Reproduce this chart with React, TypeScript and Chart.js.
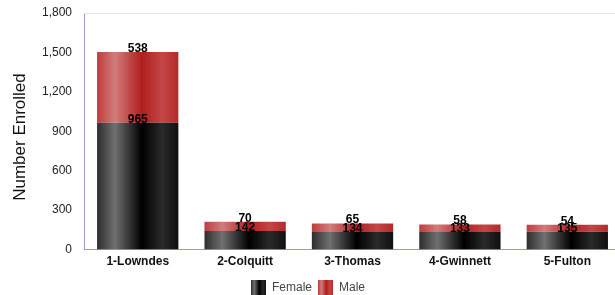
import React, { useEffect, useRef } from "react";
import { Chart, registerables } from "chart.js";

Chart.register(...registerables);

const categories = ["1-Lowndes", "2-Colquitt", "3-Thomas", "4-Gwinnett", "5-Fulton"];
const femaleValues = [965, 142, 134, 133, 135];
const maleValues = [538, 70, 65, 58, 54];
const yTicks = [0, 300, 600, 900, 1200, 1500, 1800];
const yTitle = "Number Enrolled";

const FEMALE_STOPS: [number, string][] = [
  [0, "#2e2e2e"],
  [0.22, "#707070"],
  [0.55, "#000000"],
  [0.8, "#2a2a2a"],
  [1, "#101010"],
];
const MALE_STOPS: [number, string][] = [
  [0, "#bf3c3c"],
  [0.22, "#d27c7c"],
  [0.55, "#b01e1e"],
  [0.8, "#c24646"],
  [1, "#b42a2a"],
];

const BAR_PCT = 0.757;
const FONT = "Arial, 'Liberation Sans', sans-serif";

function makeGrad(c: CanvasRenderingContext2D, x0: number, x1: number, stops: [number, string][]) {
  const g = c.createLinearGradient(x0, 0, x1, 0);
  stops.forEach(([o, col]) => g.addColorStop(o, col));
  return g;
}

function barGradient(stops: [number, string][]) {
  return (ctx: any) => {
    const chart = ctx.chart;
    const xs = chart.scales?.x;
    if (!xs || ctx.dataIndex === undefined) return stops[2][1];
    const cw = xs.width / categories.length;
    const cx = xs.getPixelForValue(ctx.dataIndex);
    const w = cw * BAR_PCT;
    const x0 = cx - w / 2;
    const x1 = cx + w / 2;
    if (!isFinite(x0) || !isFinite(x1) || x1 <= x0) return stops[2][1];
    return makeGrad(chart.ctx, x0, x1, stops);
  };
}

function legendIcon(stops: [number, string][]) {
  const cv = document.createElement("canvas");
  cv.width = 15;
  cv.height = 17;
  const c = cv.getContext("2d")!;
  c.fillStyle = makeGrad(c, 0, 15, stops);
  c.fillRect(0, 0, 15, 17);
  return cv;
}

const valueLabels = {
  id: "valueLabels",
  afterDatasetsDraw(chart: any) {
    const c = chart.ctx;
    c.save();
    c.font = `bold 12px ${FONT}`;
    c.fillStyle = "#000";
    c.textAlign = "center";
    c.textBaseline = "alphabetic";
    chart.data.datasets.forEach((ds: any, di: number) => {
      const meta = chart.getDatasetMeta(di);
      meta.data.forEach((el: any, i: number) => {
        c.fillText(String(ds.data[i]), el.x, el.y);
      });
    });
    c.restore();
  },
};

const frame = {
  id: "frame",
  beforeDatasetsDraw(chart: any) {
    const { ctx: c, chartArea: a } = chart;
    c.save();
    c.strokeStyle = "#e4e4ee";
    c.lineWidth = 1;
    c.beginPath();
    c.moveTo(a.left, a.top + 0.5);
    c.lineTo(a.right, a.top + 0.5);
    c.stroke();
    c.restore();
  },
  afterDraw(chart: any) {
    const c = chart.ctx;
    c.save();
    c.translate(25, 137);
    c.rotate(-Math.PI / 2);
    c.font = `17px ${FONT}`;
    c.fillStyle = "#111";
    c.textAlign = "center";
    c.textBaseline = "alphabetic";
    c.fillText(yTitle, 0, 0);
    c.restore();
  },
};

const LEGEND_CENTER = 308;
const legendShift = {
  id: "legendShift",
  afterLayout(chart: any) {
    const l = chart.legend;
    if (!l) return;
    const d = LEGEND_CENTER - (l.left + l.right) / 2;
    l.left += d;
    l.right += d;
    l.top += 2;
    l.bottom += 2;
  },
};

export default function App() {
  const ref = useRef<HTMLCanvasElement>(null);
  useEffect(() => {
    if (!ref.current) return;
    const chart = new Chart(ref.current, {
      type: "bar",
      data: {
        labels: categories,
        datasets: [
          {
            label: "Female",
            data: femaleValues,
            backgroundColor: barGradient(FEMALE_STOPS),
            pointStyle: legendIcon(FEMALE_STOPS) as any,
            categoryPercentage: 1,
            barPercentage: BAR_PCT,
          },
          {
            label: "Male",
            data: maleValues,
            backgroundColor: barGradient(MALE_STOPS),
            pointStyle: legendIcon(MALE_STOPS) as any,
            categoryPercentage: 1,
            barPercentage: BAR_PCT,
          },
        ],
      },
      options: {
        animation: false,
        responsive: false,
        maintainAspectRatio: false,
        layout: { padding: { top: 13, right: 0, left: 30, bottom: 0 } },
        plugins: {
          tooltip: { enabled: false },
          legend: {
            position: "bottom",
            labels: {
              usePointStyle: true,
              pointStyleWidth: 15,
              boxWidth: 15,
              boxHeight: 17,
              padding: 6,
              color: "#444",
              font: { family: FONT, size: 12 },
            },
          },
        },
        scales: {
          x: {
            stacked: true,
            grid: { display: false, drawTicks: false },
            border: { color: "#9a9ac4", width: 1 },
            ticks: {
              color: "#111",
              padding: 5,
              font: { family: FONT, size: 12, weight: "bold" },
            },
          },
          y: {
            stacked: true,
            min: 0,
            max: 1800,
            afterBuildTicks: (s: any) => {
              s.ticks = yTicks.map((v) => ({ value: v }));
            },
            afterFit: (s: any) => {
              s.paddingTop = 0;
              s.paddingBottom = 0;
            },
            grid: { display: false, drawTicks: false },
            border: { color: "#9a9ac4", width: 1 },
            title: { display: false },
            ticks: {
              color: "#222",
              padding: 12,
              font: { family: FONT, size: 12 },
              callback: (v: any) => Number(v).toLocaleString("en-US"),
            },
          },
        },
      },
      plugins: [valueLabels, frame, legendShift],
    });
    return () => chart.destroy();
  }, []);
  return (
    <div style={{ position: "fixed", left: 0, top: 0, width: 615, height: 295, overflow: "hidden", background: "#fff" }}>
      <canvas ref={ref} width={621} height={302} style={{ display: "block", width: 621, height: 302 }} />
    </div>
  );
}
